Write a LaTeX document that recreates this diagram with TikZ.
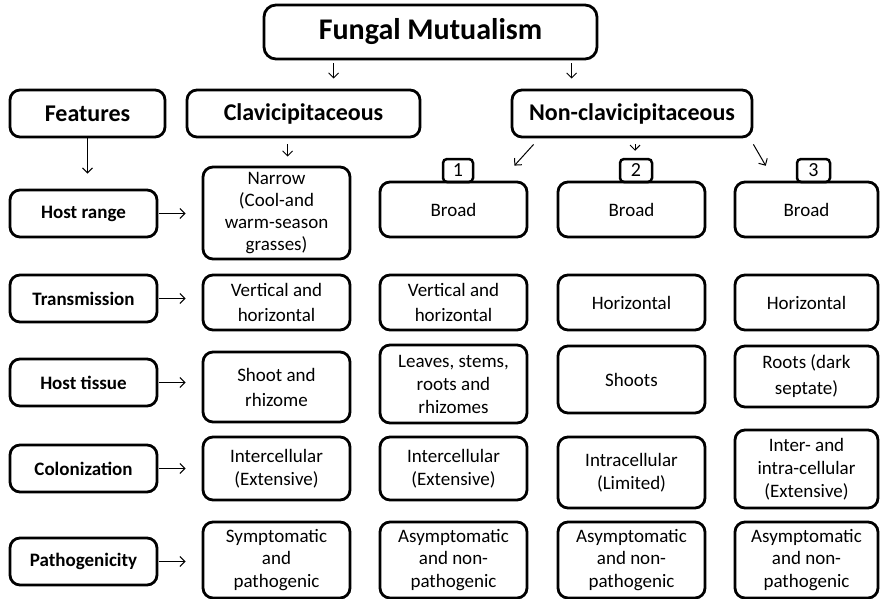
\documentclass[tikz,border=0pt]{standalone}
\usepackage{fontspec}
\setmainfont{Carlito}
\usetikzlibrary{arrows.meta,calc}
\newcommand\fmBody{\fontsize{19}{23.5}\selectfont}
\newcommand\fmBodyW{\fontsize{19}{25}\selectfont}
\newcommand\fmBodyN{\fontsize{19}{22}\selectfont}
\newcommand\fmFeat{\fontsize{19}{23}\selectfont\bfseries}
\newcommand\fmHead{\fontsize{24}{28}\selectfont\bfseries}
\newcommand\fmTitle{\fontsize{30}{34}\selectfont\bfseries}
\tikzset{
  box/.style={draw, line width=2.8pt, rounded corners=10pt, align=center, inner sep=0pt, font=\fmBody},
  featbox/.style={box, minimum width=147pt, minimum height=47pt, font=\fmFeat},
  headbox/.style={box, minimum height=47pt, font=\fmHead},
  cellA/.style={box, minimum width=147pt},
  cellB/.style={box, minimum width=143pt},
  tabbox/.style={draw, line width=2.5pt, rounded corners=4pt, inner sep=0pt, minimum height=23pt, font=\fontsize{20}{22}\selectfont},
  arr/.style={-{Straight Barb[length=5pt,width=10pt]}, line width=1pt},
}
\begin{document}
\begin{tikzpicture}[x=1pt,y=-1pt]
\useasboundingbox (0,0) rectangle (880,599);
% title and headers
\node[box, minimum width=333pt, minimum height=54pt, rounded corners=12pt, font=\fmTitle] (title) at (430.5,32) {Fungal Mutualism};
\node[headbox, minimum width=155pt] (features) at (87.5,113.5) {Features};
\node[headbox, minimum width=233pt] (clav) at (303.5,113.5) {Clavicipitaceous};
\node[headbox, minimum width=240pt] (nonclav) at (632,113.5) {Non-clavicipitaceous};
% feature column
\node[featbox] (hostrange) at (83.5,213.5) {Host range};
\node[featbox] (transmission) at (83.5,298.5) {Transmission};
\node[featbox] (hosttissue) at (83.5,382.5) {Host tissue};
\node[featbox] (colonization) at (83.5,468.5) {Colonization};
\node[featbox] (pathogenicity) at (83.5,561.5) {Pathogenicity};
% clavicipitaceous column
\node[cellA, minimum height=92pt, font=\fmBodyN] (narrow) at (276.5,213) {Narrow\\(Cool-and\\warm-season\\grasses)};
\node[cellA, minimum height=55pt, font=\fmBodyW] (trans0) at (276.5,302.5) {Vertical and\\horizontal};
\node[cellA, minimum height=70pt, font=\fmBodyW] (tissue0) at (276.5,387) {Shoot and\\rhizome};
\node[cellA, minimum height=63pt] (colon0) at (276.5,468.5) {Intercellular\\(Extensive)};
\node[cellA, minimum height=76pt, font=\fontsize{19}{22.5}\selectfont] (path0) at (276.5,560) {Symptomatic\\and\\pathogenic};
% tabs
\node[tabbox, minimum width=30pt] (tab1) at (458,170.5) {1};
\node[tabbox, minimum width=32pt] (tab2) at (636,170.5) {2};
\node[tabbox, minimum width=33pt] (tab3) at (813.5,170.5) {3};
% column 1
\node[cellA, minimum height=55pt] (broad1) at (453.5,209.5) {Broad};
\node[cellA, minimum height=55pt, font=\fmBodyW] (trans1) at (453.5,302.5) {Vertical and\\horizontal};
\node[cellA, minimum height=78pt, font=\fontsize{19}{23}\selectfont] (tissue1) at (453.5,384) {Leaves, stems,\\roots and\\rhizomes};
\node[cellA, minimum height=63pt] (colon1) at (453.5,468.5) {Intercellular\\(Extensive)};
\node[cellA, minimum height=76pt, font=\fontsize{19}{22.5}\selectfont] (path1) at (453.5,560) {Asymptomatic\\and non-\\pathogenic};
% column 2
\node[cellA, minimum height=55pt] (broad2) at (631.5,209.5) {Broad};
\node[cellA, minimum height=55pt] (trans2) at (631.5,302.5) {Horizontal};
\node[cellA, minimum height=67pt] (tissue2) at (631.5,379.5) {Shoots};
\node[cellA, minimum height=71pt] (colon2) at (631.5,472.5) {Intracellular\\(Limited)};
\node[cellA, minimum height=76pt, font=\fontsize{19}{22.5}\selectfont] (path2) at (631.5,560) {Asymptomatic\\and non-\\pathogenic};
% column 3
\node[cellB, minimum height=55pt] (broad3) at (806.5,209.5) {Broad};
\node[cellB, minimum height=55pt] (trans3) at (806.5,302.5) {Horizontal};
\node[cellB, minimum height=61pt, font=\fontsize{19}{26}\selectfont] (tissue3) at (806.5,376.5) {Roots (dark\\septate)};
\node[cellB, minimum height=78pt, font=\fontsize{19}{23}\selectfont] (colon3) at (806.5,469) {Inter- and\\intra-cellular\\(Extensive)};
\node[cellB, minimum height=76pt, font=\fontsize{19}{22.5}\selectfont] (path3) at (806.5,560) {Asymptomatic\\and non-\\pathogenic};
% arrows from title
\coordinate (a1) at ($(title.south west)+(71,3)$);
\draw[arr, shorten >=10pt] (a1) -- (a1 |- clav.north);
\coordinate (a2) at ($(title.south west)+(309,3)$);
\draw[arr, shorten >=10pt] (a2) -- (a2 |- nonclav.north);
% features down
\draw[arr, shorten >=15pt] (features.south) -- (features.south |- hostrange.north);
% clav down
\coordinate (a3) at ($(clav.south west)+(102,6)$);
\draw[arr, shorten >=9pt] (a3) -- (a3 |- narrow.north);
% non-clav arrows
\coordinate (b1s) at ($(nonclav.south west)+(23,6)$);
\coordinate (b1e) at ($(broad1.north east)+(-14,-15)$);
\draw[arr] (b1s) -- (b1e);
\coordinate (b2s) at ($(nonclav.south)+(3,6)$);
\draw[arr, shorten >=7pt] (b2s) -- (b2s |- tab2.north);
\coordinate (b3s) at ($(nonclav.south east)+(0,6)$);
\coordinate (b3e) at ($(tab3.north west)+(-30,8)$);
\draw[arr] (b3s) -- (b3e);
% horizontal arrows
\foreach \f/\c in {hostrange/narrow, transmission/trans0, hosttissue/tissue0, colonization/colon0, pathogenicity/path0}
  \draw[arr, shorten <=1pt, shorten >=16pt] (\f.east) -- (\f.east -| \c.west);
\end{tikzpicture}
\end{document}
